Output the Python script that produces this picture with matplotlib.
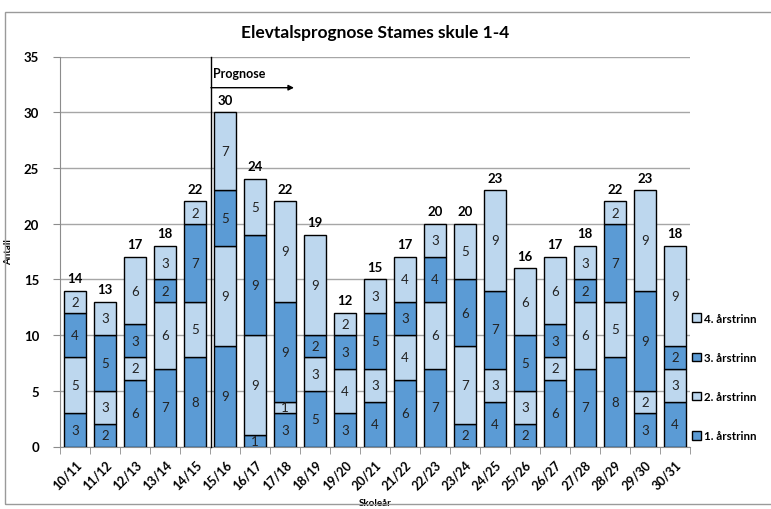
import matplotlib.pyplot as plt
import numpy as np
from matplotlib.patches import Rectangle

plt.rcParams['font.family'] = ['Lato', 'DejaVu Sans']

# Skoleår og elevtal per årstrinn
skolear = ['10/11', '11/12', '12/13', '13/14', '14/15', '15/16', '16/17', '17/18',
           '18/19', '19/20', '20/21', '21/22', '22/23', '23/24', '24/25', '25/26',
           '26/27', '27/28', '28/29', '29/30', '30/31']
trinn1 = [3, 2, 6, 7, 8, 9, 1, 3, 5, 3, 4, 6, 7, 2, 4, 2, 6, 7, 8, 3, 4]
trinn2 = [5, 3, 2, 6, 5, 9, 9, 1, 3, 4, 3, 4, 6, 7, 3, 3, 2, 6, 5, 2, 3]
trinn3 = [4, 5, 3, 2, 7, 5, 9, 9, 2, 3, 5, 3, 4, 6, 7, 5, 3, 2, 7, 9, 2]
trinn4 = [2, 3, 6, 3, 2, 7, 5, 9, 9, 2, 3, 4, 3, 5, 9, 6, 6, 3, 2, 9, 9]
serie_namn = ['1. årstrinn', '2. årstrinn', '3. årstrinn', '4. årstrinn']

dark = '#5B9BD5'
light = '#BDD7EE'
farger = [dark, light, dark, light]

fig = plt.figure(figsize=(7.71, 5.10), dpi=100)
ax = fig.add_axes([60 / 771, 1 - 447.5 / 510, 630 / 771, 390 / 510])

# ramme rundt heile diagrammet
fig.patches.append(Rectangle((5 / 771, 5 / 510), 0.995, 1 - 13 / 510 - 5 / 510,
                             transform=fig.transFigure, fill=False,
                             edgecolor='#9a9a9a', linewidth=1.0))

x = np.arange(len(skolear))
data = [trinn1, trinn2, trinn3, trinn4]
bunn = np.zeros(len(skolear))
handles = []
for verdiar, farge, namn in zip(data, farger, serie_namn):
    bars = ax.bar(x, verdiar, 0.76, bottom=bunn, color=farge, edgecolor='black',
                  linewidth=1.0, label=namn, zorder=3)
    handles.append(bars)
    for xi, b, v in zip(x, bunn, verdiar):
        ax.text(xi, b + v / 2, str(v), ha='center', va='center', fontsize=9.5,
                color='#222222', zorder=4)
    bunn = bunn + np.array(verdiar)

for xi, tot in zip(x, bunn):
    ax.text(xi, tot + 0.6, str(int(tot)), ha='center', va='bottom', fontsize=9.5,
            fontweight='bold', zorder=4)

ax.set_xlim(-0.5, len(skolear) - 0.5)
ax.set_ylim(0, 35)
ax.set_yticks(range(0, 36, 5))
ax.yaxis.grid(True, color='#a6a6a6', linewidth=1.0, zorder=0)
ax.set_axisbelow(True)
for s in ['top', 'right']:
    ax.spines[s].set_visible(False)
for s in ['left', 'bottom']:
    ax.spines[s].set_color('#8c8c8c')

ax.set_xticks(x)
ax.set_xticklabels(skolear, rotation=45, ha='right', rotation_mode='anchor',
                   fontsize=9, fontweight='bold')
ax.set_xticks(np.arange(-0.5, len(skolear), 1), minor=True)
ax.tick_params(axis='x', which='major', length=0, pad=8)
ax.tick_params(axis='x', which='minor', length=5, color='#8c8c8c', direction='out')
ax.tick_params(axis='y', length=5, color='#8c8c8c', labelsize=9.5, pad=10)
for lbl in ax.get_yticklabels():
    lbl.set_fontweight('bold')

ax.set_ylabel('Antall', fontsize=7, fontweight='bold', labelpad=8)
ax.set_xlabel('Skoleår', fontsize=7, fontweight='bold', labelpad=5)
ax.set_title('Elevtalsprognose Stames skule 1-4', fontsize=12.5, fontweight='bold', pad=14)

# prognose-markering
ax.plot([4.53, 4.53], [0, 35], color='black', linewidth=1.0, zorder=5, clip_on=False)
ax.annotate('', xy=(7.3, 32.2), xytext=(4.53, 32.2),
            arrowprops=dict(arrowstyle='-|>', color='black', lw=1.0,
                            mutation_scale=8, shrinkA=0, shrinkB=0), zorder=5)
ax.text(4.6, 33.0, 'Prognose', fontsize=9, fontweight='bold', ha='left', va='bottom')

leg = fig.legend(handles[::-1], serie_namn[::-1], loc='center left',
                 bbox_to_anchor=(692 / 771, 1 - 378 / 510), frameon=False,
                 fontsize=8.3, handlelength=0.75, handleheight=0.75, handletextpad=0.3,
                 labelspacing=2.45, borderpad=0, borderaxespad=0)
for t in leg.get_texts():
    t.set_fontweight('bold')

fig.savefig('out.png', dpi=100)
